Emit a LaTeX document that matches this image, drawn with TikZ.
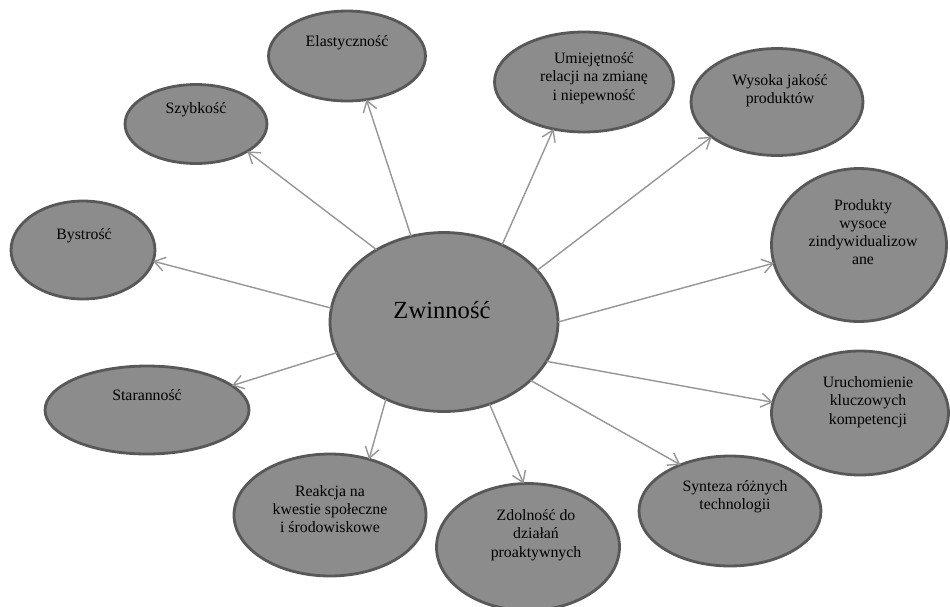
\documentclass[tikz,border=0pt]{standalone}
\usepackage{fontspec}
\newfontfamily\tms{Liberation Serif}
\usetikzlibrary{shapes.geometric,arrows.meta}
\definecolor{bubfill}{RGB}{140,140,140}
\definecolor{bubline}{RGB}{88,88,88}
\definecolor{arrline}{RGB}{150,150,150}
\tikzset{
  bub/.style={ellipse, draw=bubline, fill=bubfill, line width=1.6pt, inner sep=0pt, outer sep=0pt},
  lab/.style={align=center, font=\tms\fontsize{9}{10.4}\selectfont, inner sep=0pt},
  conn/.style={draw=arrline, line width=0.8pt, -{Straight Barb[length=6pt,width=8pt,line width=0.8pt]}}
}
\begin{document}
\begin{tikzpicture}[x=0.02cm,y=-0.02cm]
\useasboundingbox (0,0) rectangle (950,606);

% bubbles
\node[bub, minimum width=4.56cm, minimum height=3.58cm] (z) at (444,322) {};
\node[bub, minimum width=3.14cm, minimum height=1.8cm] (elast) at (347,56) {};
\node[bub, minimum width=2.84cm, minimum height=1.58cm] (szyb) at (196,124) {};
\node[bub, minimum width=2.88cm, minimum height=1.96cm] (byst) at (83,250) {};
\node[bub, minimum width=4.08cm, minimum height=1.76cm] (star) at (147,410) {};
\node[bub, minimum width=3.84cm, minimum height=2.44cm] (reak) at (330,515) {};
\node[bub, minimum width=3.66cm, minimum height=2.54cm] (zdol) at (528,547) {};
\node[bub, minimum width=3.64cm, minimum height=2.2cm] (synt) at (730,511) {};
\node[bub, minimum width=3.54cm, minimum height=2.48cm] (uruch) at (860,413) {};
\node[bub, minimum width=3.5cm, minimum height=3.06cm] (prod) at (859,245) {};
\node[bub, minimum width=3.44cm, minimum height=2.14cm] (wys) at (777,102) {};
\node[bub, minimum width=3.58cm, minimum height=2.0cm] (umie) at (584,82) {};

% labels
\node[inner sep=0pt, font=\tms\fontsize{14}{16}\selectfont] (tz) at (442,310) {Zwinność};
\node[lab] (telast) at (347,43) {Elastyczność};
\node[lab] (tszyb) at (196,110) {Szybkość};
\node[lab] (tbyst) at (84,236) {Bystrość};
\node[lab] (tstar) at (147,395) {Staranność};
\node[lab] (treak) at (330,509) {Reakcja na\\kwestie społeczne\\i środowiskowe};
\node[lab] (tzdol) at (536,535) {Zdolność do\\działań\\proaktywnych};
\node[lab] (tsynt) at (735,497) {Synteza różnych\\technologii};
\node[lab] (turuch) at (868,402) {Uruchomienie\\kluczowych\\kompetencji};
\node[lab] (tprod) at (863,232) {Produkty\\wysoce\\zindywidualizow\\ane};
\node[lab] (twys) at (780,91) {Wysoka jakość\\produktów};
\node[lab] (tumie) at (594,78) {Umiejętność\\relacji na zmianę\\i niepewność};

% connectors
\draw[conn] (z.111) -- (elast.294);
\draw[conn] (z.133) -- (szyb.332.6);
\draw[conn] (z.173) -- (byst.351);
\draw[conn] (z.196.8) -- (star.16.8);
\draw[conn] (z.233) -- (reak.55);
\draw[conn] (z.299.6) -- (zdol.94.3);
\draw[conn] (z.326.3) -- (synt.137.7);
\draw[conn] (z.339) -- (uruch.173);
\draw[conn] (z.0.9) -- (prod.192.7);
\draw[conn] (z.29.1) -- (wys.208.2);
\draw[conn] (z.53.2) -- (umie.237.1);
\end{tikzpicture}
\end{document}
